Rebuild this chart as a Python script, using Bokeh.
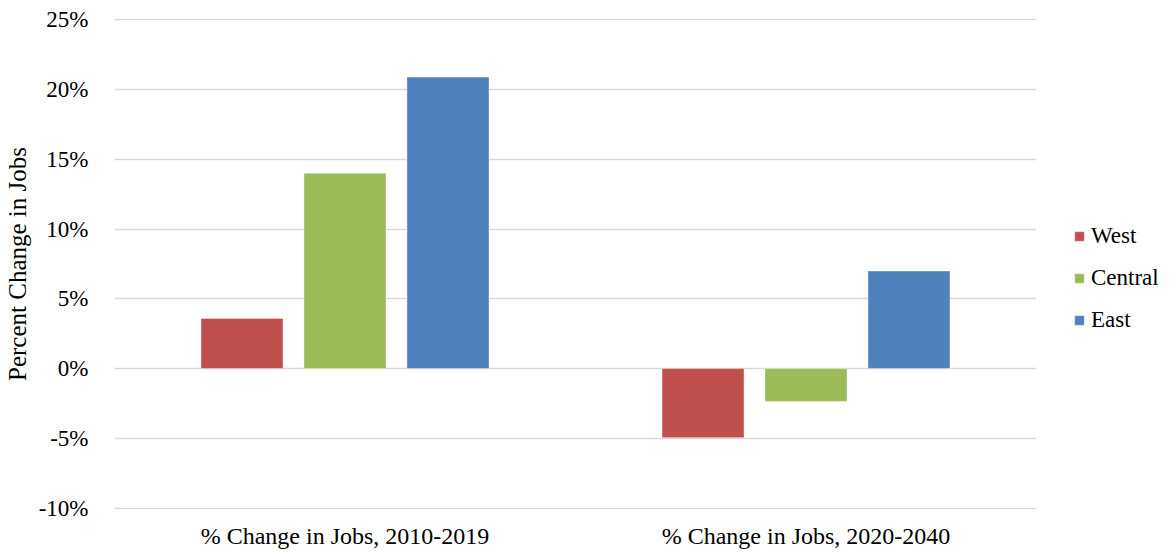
from bokeh.plotting import figure
from bokeh.models import FactorRange, Range1d, Legend, LegendItem, ColumnDataSource, PrintfTickFormatter, FixedTicker
from bokeh.transform import dodge
from bokeh.embed import file_html
from bokeh.resources import INLINE

categories = ["% Change in Jobs, 2010-2019", "% Change in Jobs, 2020-2040"]
series = ["West", "Central", "East"]
west = [3.6, -4.95]
central = [14.0, -2.35]
east = [20.9, 7.0]
colors = ["#C0504D", "#9BBB59", "#4F81BD"]
y_ticks = [-10, -5, 0, 5, 10, 15, 20, 25]

FONT = "Liberation Serif"

src = ColumnDataSource(dict(cat=categories, West=west, Central=central, East=east))

p = figure(x_range=FactorRange(factors=categories), y_range=Range1d(-10.1, 25.1),
           frame_width=922, frame_height=491,
           min_border_left=107, min_border_right=124, min_border_top=18, min_border_bottom=40,
           output_backend="svg", toolbar_location=None)

offsets = [-0.2234, 0.0, 0.2234]
items = []
for s, off, c in zip(series, offsets, colors):
    r = p.vbar(x=dodge("cat", off, range=p.x_range), top=s, bottom=0, width=0.178,
               source=src, fill_color=c, line_color="white", line_alpha=0.4, line_width=1)
    items.append(LegendItem(label=s, renderers=[r]))

legend = Legend(items=items, location=(37, 176), orientation="vertical",
                label_text_font=FONT, label_text_font_size="23px", label_text_color="#000000",
                glyph_width=12, glyph_height=12, label_height=22, spacing=16,
                padding=0, margin=0, border_line_color=None, background_fill_alpha=0,
                label_standoff=6)
p.add_layout(legend, "right")

p.outline_line_color = None
p.xgrid.grid_line_color = None
p.ygrid.grid_line_color = "#D9D9D9"
p.ygrid.grid_line_width = 1.5
p.ygrid.ticker = FixedTicker(ticks=y_ticks)

p.yaxis.ticker = FixedTicker(ticks=y_ticks)
p.yaxis.formatter = PrintfTickFormatter(format="%d%%")
p.yaxis.axis_line_color = None
p.yaxis.major_tick_line_color = None
p.yaxis.minor_tick_line_color = None
p.yaxis.major_label_standoff = 20
p.yaxis.major_label_text_font = FONT
p.yaxis.major_label_text_font_size = "23px"
p.yaxis.major_label_text_color = "#000000"
p.yaxis.axis_label = "Percent Change in Jobs"
p.yaxis.axis_label_text_font = FONT
p.yaxis.axis_label_text_font_size = "25px"
p.yaxis.axis_label_text_font_style = "normal"
p.yaxis.axis_label_text_color = "#000000"
p.yaxis.axis_label_standoff = 5

p.xaxis.axis_line_color = None
p.xaxis.major_tick_line_color = None
p.xaxis.minor_tick_line_color = None
p.xaxis.major_label_standoff = 7
p.xaxis.major_label_text_font = FONT
p.xaxis.major_label_text_font_size = "24px"
p.xaxis.major_label_text_color = "#000000"

open("out.html", "w").write(file_html(p, INLINE))
